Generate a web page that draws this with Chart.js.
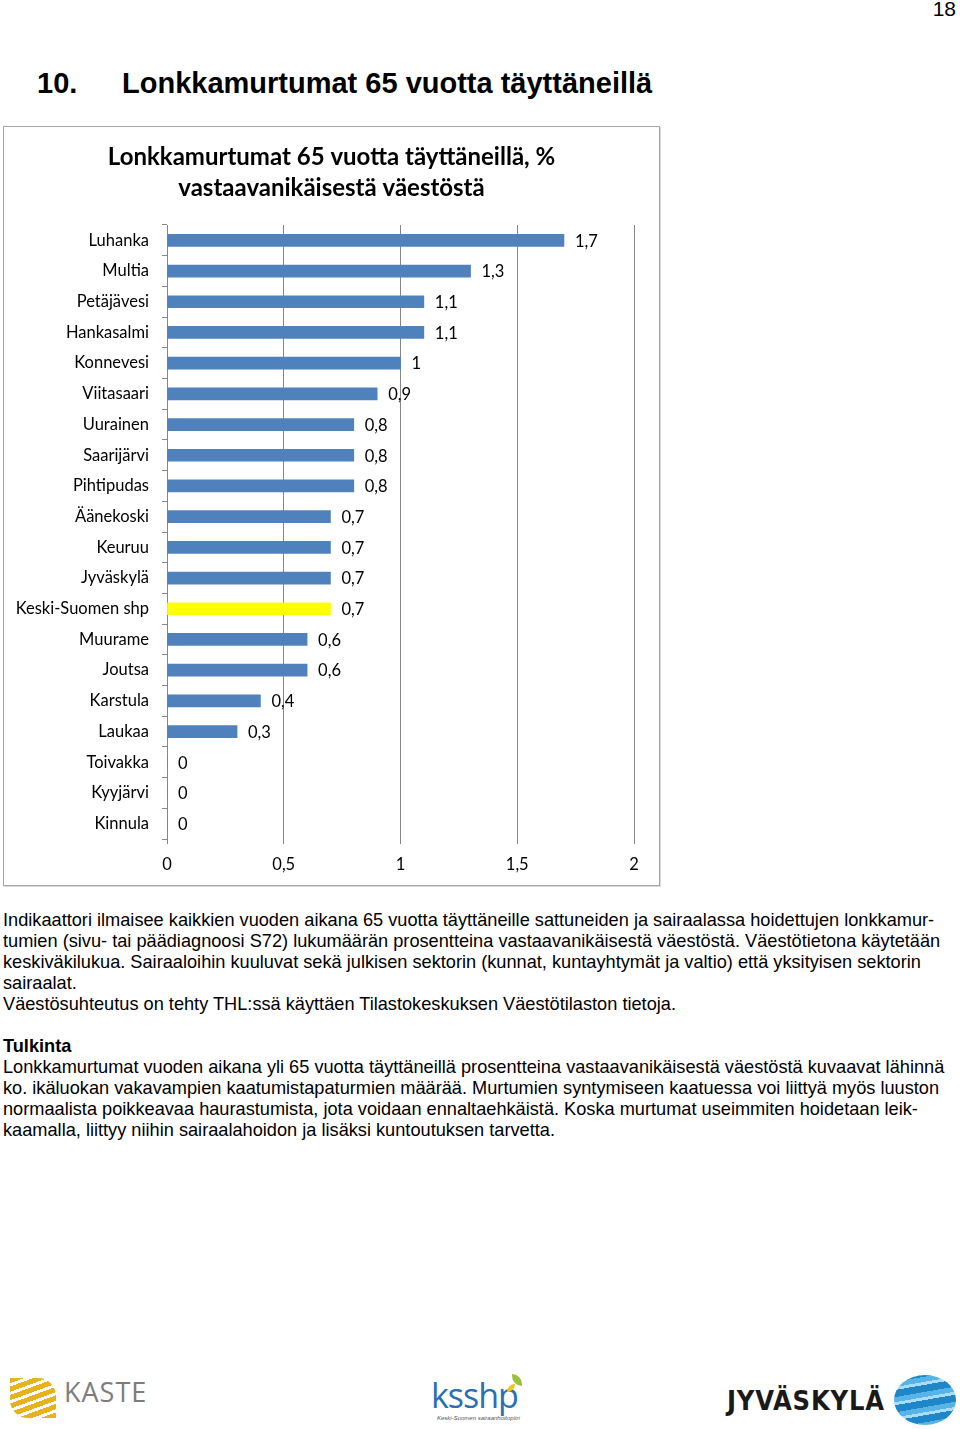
<!DOCTYPE html>
<html lang="fi">
<head>
    <meta charset="UTF-8">
    <title>Lonkkamurtumat 65 vuotta täyttäneillä</title>
    <script src="https://cdn.jsdelivr.net/npm/chart.js@4.4.0/dist/chart.umd.min.js"></script>
    <style>
        body {
            margin: 0;
            padding: 0;
            background: #fff;
            width: 960px;
            height: 1429px;
            position: relative;
            overflow: hidden;
            font-family: "Liberation Sans", Arial, sans-serif;
            color: #000;
        }
        .page-num {
            position: absolute;
            right: 4px;
            top: -3px;
            font-size: 21px;
        }
        .heading {
            position: absolute;
            left: 37px;
            top: 67px;
            font-size: 29px;
            font-weight: bold;
            white-space: nowrap;
        }
        .heading .txt {
            position: absolute;
            left: 85px;
        }
        .chart-box {
            position: absolute;
            left: 3px;
            top: 126px;
            width: 655px;
            height: 758px;
            border: 1px solid #a6a6a6;
            box-shadow: 1px 1px 0 #d9d9d9;
        }
        .body-text {
            position: absolute;
            left: 3px;
            top: 910px;
            font-size: 18.2px;
            line-height: 21px;
            white-space: nowrap;
        }
        .logos div { position: absolute; }
        .kaste-waves {
            left: 10px; top: 1378px; width: 46px; height: 40px;
            background: repeating-linear-gradient(160deg, #e8b21c 0 5px, #fff 5px 8px);
            border-radius: 0 18px 0 18px;
        }
        .kaste-text {
            left: 64px; top: 1373px;
            font-family: "Open Sans", sans-serif;
            font-size: 27px; color: #7d7d7d; letter-spacing: 1px;
        }
        .ksshp {
            left: 431px; top: 1372px;
            font-family: "Open Sans", sans-serif;
            font-size: 34px; color: #2a6fb4; letter-spacing: -1px;
        }
        .ksshp-sub {
            left: 437px; top: 1415px;
            font-size: 6px; font-style: italic; color: #555;
        }
        .leaf1 { left: 512px; top: 1374px; width: 10px; height: 12px; background: #9bc23c; border-radius: 0 10px 0 10px; }
        .leaf2 { left: 507px; top: 1384px; width: 8px; height: 8px; background: #f0c419; border-radius: 8px 0 8px 0; }
        .jkl {
            left: 727px; top: 1385px;
            font-family: "DejaVu Sans Condensed", sans-serif;
            font-size: 27px; font-weight: bold; color: #1a1a1a;
            letter-spacing: 0.8px;
        }
        .jkl-ball {
            left: 894px; top: 1375px; width: 62px; height: 50px;
            border-radius: 50%;
            background: repeating-linear-gradient(170deg, #1f86c8 0 7px, #58b4e6 7px 12px, #a9dcf5 12px 15px);
        }
    </style>
</head>
<body>
    <div class="page-num">18</div>
    <div class="heading"><span>10.</span><span class="txt">Lonkkamurtumat 65 vuotta täyttäneillä</span></div>

    <div class="chart-box">
        <canvas id="chart" width="655" height="758"></canvas>
    </div>

    <div class="body-text">
        Indikaattori ilmaisee kaikkien vuoden aikana 65 vuotta täyttäneille sattuneiden ja sairaalassa hoidettujen lonkkamur-<br>
        tumien (sivu- tai päädiagnoosi S72) lukumäärän prosentteina vastaavanikäisestä väestöstä. Väestötietona käytetään<br>
        keskiväkilukua. Sairaaloihin kuuluvat sekä julkisen sektorin (kunnat, kuntayhtymät ja valtio) että yksityisen sektorin<br>
        sairaalat.<br>
        Väestösuhteutus on tehty THL:ssä käyttäen Tilastokeskuksen Väestötilaston tietoja.<br>
        <br>
        <b>Tulkinta</b><br>
        Lonkkamurtumat vuoden aikana yli 65 vuotta täyttäneillä prosentteina vastaavanikäisestä väestöstä kuvaavat lähinnä<br>
        ko. ikäluokan vakavampien kaatumistapaturmien määrää. Murtumien syntymiseen kaatuessa voi liittyä myös luuston<br>
        normaalista poikkeavaa haurastumista, jota voidaan ennaltaehkäistä. Koska murtumat useimmiten hoidetaan leik-<br>
        kaamalla, liittyy niihin sairaalahoidon ja lisäksi kuntoutuksen tarvetta.
    </div>

    <div class="logos">
        <div class="kaste-waves"></div>
        <div class="kaste-text">KASTE</div>
        <div class="ksshp">ksshp</div>
        <div class="leaf1"></div>
        <div class="leaf2"></div>
        <div class="ksshp-sub">Keski-Suomen sairaanhoitopiiri</div>
        <div class="jkl">JYVÄSKYLÄ</div>
        <div class="jkl-ball"></div>
    </div>

<script>
const municipalities = [
    'Luhanka', 'Multia', 'Petäjävesi', 'Hankasalmi', 'Konnevesi',
    'Viitasaari', 'Uurainen', 'Saarijärvi', 'Pihtipudas', 'Äänekoski',
    'Keuruu', 'Jyväskylä', 'Keski-Suomen shp', 'Muurame', 'Joutsa',
    'Karstula', 'Laukaa', 'Toivakka', 'Kyyjärvi', 'Kinnula'
];
const fracturePct = [
    1.7, 1.3, 1.1, 1.1, 1.0,
    0.9, 0.8, 0.8, 0.8, 0.7,
    0.7, 0.7, 0.7, 0.6, 0.6,
    0.4, 0.3, 0, 0, 0
];
const xTicks = [0, 0.5, 1, 1.5, 2];
const highlight = 'Keski-Suomen shp';
const titleLines = ['Lonkkamurtumat 65 vuotta täyttäneillä, %', 'vastaavanikäisestä väestöstä'];

const fmt = v => String(v).replace('.', ',');
const barColors = municipalities.map(m => m === highlight ? '#ffff00' : '#4f81bd');

// values written next to each bar end
const valueLabels = {
    id: 'valueLabels',
    afterDatasetsDraw(chart) {
        const ctx = chart.ctx;
        const meta = chart.getDatasetMeta(0);
        ctx.save();
        ctx.font = '16.5px Lato, "Open Sans", sans-serif';
        ctx.fillStyle = '#000';
        ctx.textBaseline = 'middle';
        ctx.textAlign = 'left';
        meta.data.forEach((bar, i) => {
            ctx.fillText(fmt(fracturePct[i]), bar.x + 11, bar.y + 1);
        });
        ctx.restore();
    }
};

// title centred on the whole chart box (the built-in one centres between the layout paddings)
const boxTitle = {
    id: 'boxTitle',
    afterDraw(chart) {
        const ctx = chart.ctx;
        ctx.save();
        ctx.font = 'bold 24px Lato, "Open Sans", sans-serif';
        ctx.fillStyle = '#000';
        ctx.textAlign = 'center';
        ctx.textBaseline = 'middle';
        titleLines.forEach((t, i) => {
            ctx.fillText(t, chart.width / 2, 30 + i * 31);
        });
        ctx.restore();
    }
};

Chart.defaults.color = '#000';
Chart.defaults.font.family = 'Lato, "Open Sans", sans-serif';
Chart.defaults.font.size = 16.5;

new Chart(document.getElementById('chart'), {
    type: 'bar',
    data: {
        labels: municipalities,
        datasets: [{
            data: fracturePct,
            backgroundColor: barColors,
            barThickness: 12
        }]
    },
    options: {
        indexAxis: 'y',
        responsive: false,
        animation: false,
        layout: { padding: { top: 98, right: 25, bottom: 0, left: 0 } },
        plugins: {
            legend: { display: false },
            tooltip: { enabled: false },
            title: { display: false }
        },
        scales: {
            x: {
                min: 0,
                max: 2,
                afterBuildTicks(axis) {
                    axis.ticks = xTicks.map(v => ({ value: v }));
                },
                afterFit(axis) { axis.height = 46; },
                grid: { color: '#868686', tickLength: 5 },
                border: { display: false },
                ticks: { padding: 11, callback: v => fmt(v) }
            },
            y: {
                afterFit(axis) { axis.width = 163; },
                grid: { drawOnChartArea: false, color: '#868686', tickLength: 5 },
                border: { display: true, color: '#868686' },
                ticks: { padding: 13 }
            }
        }
    },
    plugins: [valueLabels, boxTitle]
});
</script>
</body>
</html>
